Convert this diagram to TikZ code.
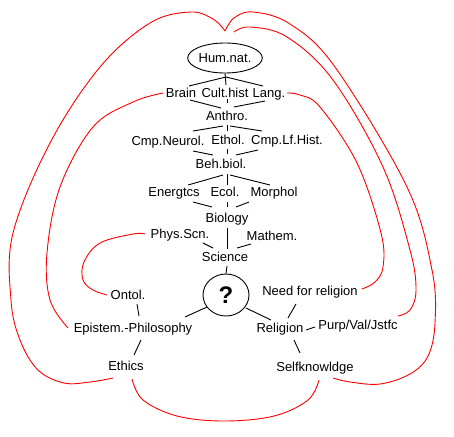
\documentclass[tikz,border=0pt]{standalone}
\usepackage{fontspec}
\setmainfont{Liberation Sans}
\usetikzlibrary{shapes.geometric}
\begin{document}
\begin{tikzpicture}[x=1pt,y=-1pt,
  lbl/.style={inner sep=0pt, text height=9.3pt, text depth=0pt, font=\fontsize{13}{15}\selectfont},
  tree/.style={black, line width=0.9pt},
  link/.style={red, line width=0.9pt, smooth, tension=0.6}]
\useasboundingbox (0,0) rectangle (454,436);
% nodes
\node[lbl, draw, line width=0.9pt, ellipse, minimum width=65pt, minimum height=30pt] (hum) at (225,58) {Hum.nat.};
\node[lbl] (brain) at (181,93) {Brain};
\node[lbl] (cult) at (225,93) {Cult.hist};
\node[lbl] (lang) at (269,93) {Lang.};
\node[lbl] (anthro) at (227,116) {Anthro.};
\node[lbl] (cmpn) at (168,141) {Cmp.Neurol.};
\node[lbl] (ethol) at (228,140) {Ethol.};
\node[lbl] (cmplf) at (287,140) {Cmp.Lf.Hist.};
\node[lbl] (beh) at (221,164) {Beh.biol.};
\node[lbl] (energ) at (174,192) {Energtcs};
\node[lbl] (ecol) at (225,192) {Ecol.};
\node[lbl] (morph) at (274,192) {Morphol};
\node[lbl] (bio) at (227,218) {Biology};
\node[lbl] (phys) at (180,234) {Phys.Scn.};
\node[lbl] (math) at (272,236) {Mathem.};
\node[lbl] (sci) at (225,257) {Science};
\node[draw, line width=0.9pt, ellipse, minimum width=46pt, minimum height=42pt, inner sep=0pt,
      font=\fontsize{24}{24}\selectfont\bfseries] (q) at (226,295) {?};
\node[lbl] (ontol) at (128,295) {Ontol.};
\node[lbl] (epi) at (133,328) {Epistem.-Philosophy};
\node[lbl] (ethics) at (126,366) {Ethics};
\node[lbl] (need) at (310,291) {Need for religion};
\node[lbl] (rel) at (280,328) {Religion};
\node[lbl] (purp) at (358,325) {Purp/Val/Jstfc};
\node[lbl] (self) at (315,367) {Selfknowldge};
% tree connectors
\draw[tree] (hum.south) -- (226,85);
\draw[tree] (226,77) -- (189,86);
\draw[tree] (226,77) -- (263,86);
\draw[tree] (190,100) -- (221,108);
\draw[tree] (227,99) -- (227,103);
\draw[tree] (265,101) -- (234,107);
\draw[tree] (193,131) -- (223,126);
\draw[tree] (227,125) -- (227,131);
\draw[tree] (230,126) -- (262,131);
\draw[tree] (193,151) -- (213,155);
\draw[tree] (227,149) -- (227,154);
\draw[tree] (258,150) -- (236,155);
\draw[tree] (188,185) -- (223,175);
\draw[tree] (227,174) -- (227,185);
\draw[tree] (230,175) -- (270,185);
\draw[tree] (193,202) -- (212,207);
\draw[tree] (227,202) -- (227,207);
\draw[tree] (249,202) -- (236,207);
\draw[tree] (227,228) -- (227,249);
\draw[tree] (203,243) -- (213,248);
\draw[tree] (251,244) -- (237,248);
\draw[tree] (227,266) -- (q.north);
\draw[tree] (207,307) -- (185,317);
\draw[tree] (246,308) -- (271,320);
\draw[tree] (137,304) -- (139,316);
\draw[tree] (141,340) -- (134,355);
\draw[tree] (296,304) -- (288,318);
\draw[tree] (306,330) -- (315,327);
\draw[tree] (294,340) -- (300,353);
% red links
\draw[link] plot coordinates {(113,378) (90,382) (64,383) (38,370) (20,340) (11,300) (13,233) (50,143) (100,67) (150,23) (190,12) (213,19) (225,31)};
\draw[link] plot coordinates {(225,31) (234,18) (253,12) (290,24) (335,67) (407,187) (432,270) (435,323) (428,356) (410,374) (380,384) (350,382) (333,378)};
\draw[link] plot coordinates {(234,32) (250,27) (287,37) (333,80) (383,167) (410,250) (416,290) (410,310) (398,316)};
\draw[link] plot coordinates {(163,93) (133,102) (93,127) (60,187) (47,253) (50,300) (68,328)};
\draw[link] plot coordinates {(287,93) (300,95) (320,107) (357,163) (381,233) (383,267) (375,282) (362,289)};
\draw[link] plot coordinates {(145,234) (133,234) (100,243) (84,262) (83,280) (93,290) (107,295)};
\draw[link] plot coordinates {(132,379) (143,400) (177,416) (224,421) (274,416) (308,400) (319,380)};
\end{tikzpicture}
\end{document}
